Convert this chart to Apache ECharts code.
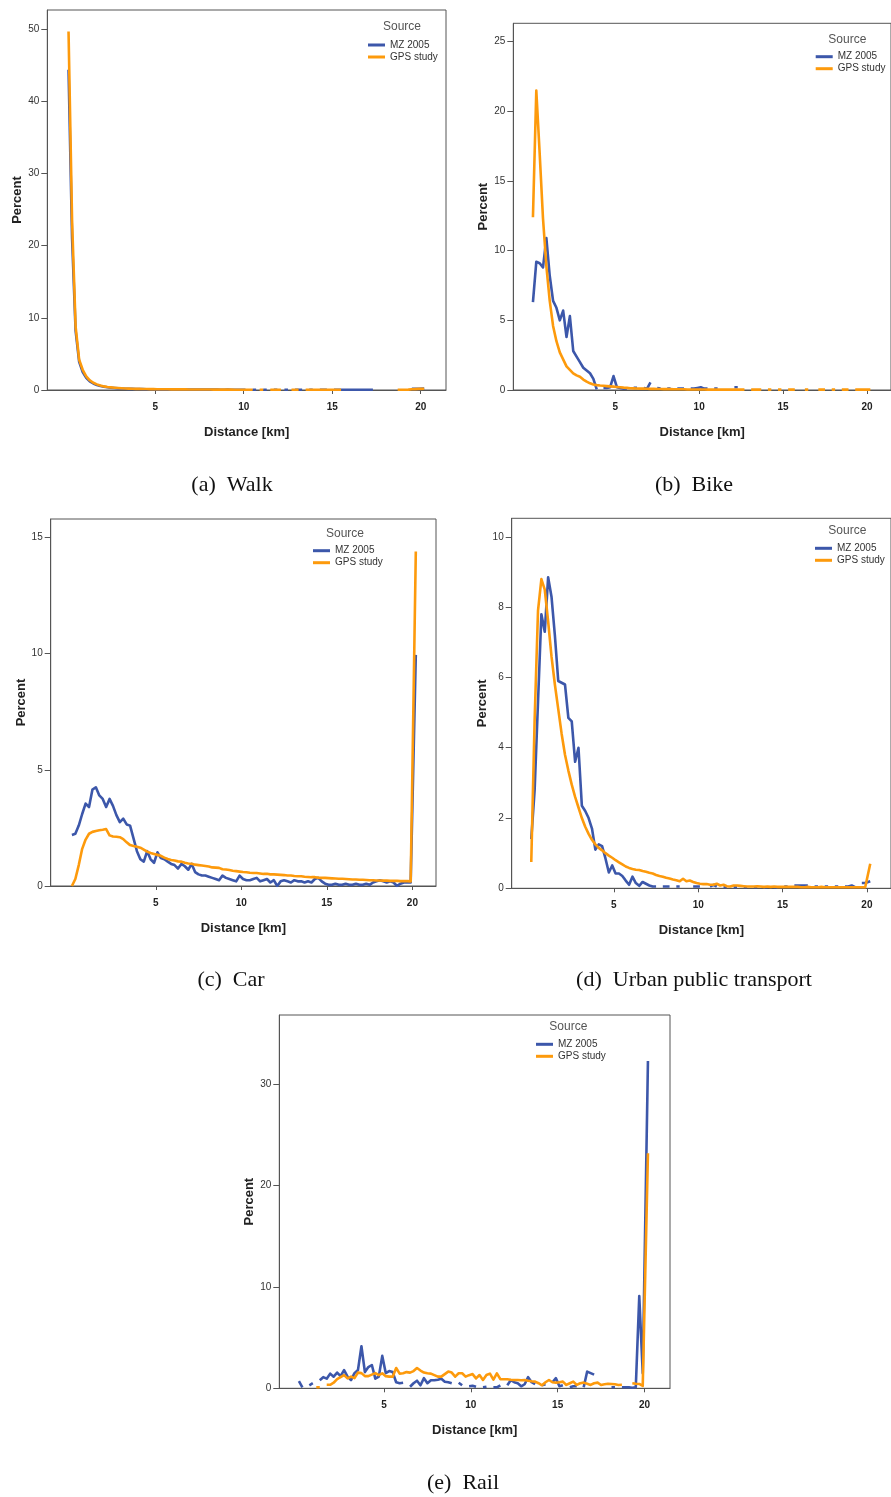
<!DOCTYPE html>
<html>
<head>
<meta charset="utf-8">
<script src="https://cdn.jsdelivr.net/npm/echarts@6/dist/echarts.min.js"></script>
<style>
  html, body { margin: 0; padding: 0; background: #ffffff; }
  #chart { width: 891px; height: 1497px; }
</style>
</head>
<body>
<div id="chart"></div>
<script>
// Trip-distance distributions by mode: share of trips (%) per 0.2 km distance bin,
// MZ 2005 survey vs GPS study. Bin centres run 0.1 ... 19.9 km; the last value
// of every series is the "> 20 km" class, drawn just right of 20 km.
const BIN_WIDTH_KM = 0.2;
const BIN_COUNT = 100;
const OVERFLOW_KM = 20.2;

const SERIES_NAMES = ['MZ 2005', 'GPS study'];
const X_TICKS = [5, 10, 15, 20];
const Y_TICKS_WALK = [0, 10, 20, 30, 40, 50];
const Y_TICKS_BIKE = [0, 5, 10, 15, 20, 25];
const Y_TICKS_CAR = [0, 5, 10, 15];
const Y_TICKS_URBAN = [0, 2, 4, 6, 8, 10];
const Y_TICKS_RAIL = [0, 10, 20, 30];
const CAPTIONS = ['(a)  Walk', '(b)  Bike', '(c)  Car', '(d)  Urban public transport', '(e)  Rail'];

// null = empty bin (the line breaks there)
const WALK_MZ = [
  44.4, 21.0, 8.2, 3.9, 2.5, 1.7, 1.2, 0.9, 0.7, 0.55,
  0.45, 0.38, 0.32, 0.27, 0.23, 0.2, 0.18, 0.16, 0.15, 0.14,
  0.13, 0.12, 0.11, 0.1, 0.1, 0.09, 0.09, 0.08, 0.08, 0.08,
  0.07, 0.07, 0.07, 0.06, 0.06, 0.06, 0.06, 0.05, 0.05, 0.05,
  0.05, 0.05, 0.05, 0.04, 0.04, 0.05, 0.04, 0.04, 0.04, 0.04,
  0.04, null, 0.03, 0.03, null, 0.03, 0.03, null, 0.03, 0.03,
  null, 0.03, 0.03, null, 0.03, 0.03, 0.03, null, 0.03, 0.03,
  null, 0.03, 0.03, 0.03, null, 0.03, 0.03, 0.03, 0.03, 0.03,
  0.03, 0.03, 0.03, 0.03, 0.03, 0.03, 0.03, null, null, null,
  null, null, null, null, null, null, null, 0.15, 0.15, 0.15,
  0.2
];
const WALK_GPS = [
  49.7, 23.5, 8.8, 4.2, 2.8, 1.9, 1.35, 1.0, 0.78, 0.62,
  0.5, 0.42, 0.36, 0.31, 0.27, 0.24, 0.21, 0.19, 0.17, 0.16,
  0.15, 0.14, 0.13, 0.12, 0.12, 0.11, 0.1, 0.1, 0.1, 0.09,
  0.09, 0.08, 0.08, 0.08, 0.07, 0.07, 0.07, 0.06, 0.06, 0.06,
  0.06, 0.05, 0.05, 0.05, 0.05, 0.05, 0.05, 0.04, 0.04, 0.04,
  0.04, 0.04, 0.04, null, 0.03, 0.03, null, 0.03, 0.03, 0.03,
  0.03, null, null, 0.03, 0.03, 0.03, null, 0.03, 0.03, 0.03,
  0.03, 0.03, 0.03, 0.03, 0.03, 0.03, 0.03, 0.03, null, null,
  null, null, null, null, null, null, null, null, null, null,
  null, null, null, 0.03, 0.03, 0.03, 0.05, 0.1, 0.12, 0.15,
  0.18
];

const BIKE_MZ = [
  6.3, 9.2, 9.1, 8.8, 10.9, 8.2, 6.4, 5.9, 5.0, 5.7,
  3.8, 5.3, 2.8, 2.4, 2.0, 1.6, 1.4, 1.2, 0.8, 0.05,
  null, 0.15, 0.15, 0.2, 1.0, 0.2, 0.15, 0.1, 0.1, null,
  0.15, 0.15, null, 0.15, 0.1, 0.55, null, 0.15, 0.1, null,
  0.1, 0.1, null, 0.1, 0.1, 0.1, null, 0.1, 0.1, 0.15,
  0.2, 0.1, 0.1, null, 0.1, 0.1, null, null, null, null,
  0.2, 0.2, null, null, null, null, null, null, null, null,
  null, null, null, null, null, null, null, null, null, null,
  null, null, null, null, null, null, null, null, null, null,
  null, null, null, null, null, null, null, null, null, null,
  null
];
const BIKE_GPS = [
  12.4, 21.5, 17.0, 12.3, 8.9, 6.4, 4.6, 3.5, 2.7, 2.2,
  1.7, 1.45, 1.2, 1.05, 0.95, 0.75, 0.6, 0.48, 0.4, 0.35,
  0.32, 0.3, 0.28, 0.26, 0.24, 0.22, 0.2, 0.17, 0.15, 0.13,
  0.12, 0.11, 0.1, 0.1, 0.09, 0.08, 0.08, 0.07, 0.07, 0.06,
  0.06, 0.06, 0.05, 0.05, 0.05, 0.05, 0.04, 0.04, 0.04, 0.04,
  0.04, 0.04, 0.03, 0.03, 0.03, 0.03, 0.03, 0.03, 0.03, 0.03,
  0.03, 0.03, 0.03, 0.03, null, 0.03, 0.03, 0.03, 0.03, null,
  0.03, 0.03, null, 0.03, 0.03, null, 0.03, 0.03, 0.03, null,
  null, 0.03, 0.03, null, null, 0.03, 0.03, 0.03, null, 0.03,
  0.03, null, 0.03, 0.03, 0.03, null, 0.03, 0.03, 0.03, 0.03,
  0.03
];

const CAR_MZ = [
  2.2, 2.25, 2.6, 3.1, 3.55, 3.4, 4.15, 4.25, 3.9, 3.75,
  3.4, 3.75, 3.45, 3.05, 2.75, 2.9, 2.65, 2.6, 2.05, 1.5,
  1.15, 1.05, 1.5, 1.15, 1.0, 1.45, 1.2, 1.15, 1.05, 0.95,
  0.9, 0.75, 0.95, 0.85, 0.7, 0.95, 0.6, 0.5, 0.45, 0.45,
  0.4, 0.35, 0.3, 0.25, 0.45, 0.35, 0.3, 0.25, 0.2, 0.45,
  0.3, 0.25, 0.25, 0.3, 0.35, 0.2, 0.25, 0.3, 0.15, 0.25,
  0.0, 0.2, 0.25, 0.2, 0.15, 0.25, 0.2, 0.2, 0.15, 0.2,
  0.15, 0.3, 0.35, 0.2, 0.1, 0.05, 0.05, 0.1, 0.05, 0.05,
  0.1, 0.05, 0.05, 0.1, 0.05, 0.05, 0.1, 0.05, 0.15, 0.2,
  0.25, 0.2, 0.15, 0.2, 0.15, 0.0, 0.1, 0.15, 0.15, 0.15,
  9.95
];
const CAR_GPS = [
  0.0, 0.3, 0.9, 1.6, 2.0, 2.25, 2.33, 2.37, 2.4, 2.42,
  2.45, 2.18, 2.13, 2.12, 2.1, 2.02, 1.88, 1.76, 1.72, 1.69,
  1.65, 1.57, 1.48, 1.42, 1.38, 1.34, 1.3, 1.22, 1.16, 1.12,
  1.1, 1.06, 1.05, 1.0, 0.97, 0.96, 0.92, 0.9, 0.88, 0.86,
  0.84, 0.8, 0.79, 0.78, 0.72, 0.71, 0.69, 0.66, 0.64, 0.62,
  0.6, 0.59, 0.57, 0.56, 0.56, 0.54, 0.52, 0.53, 0.5, 0.5,
  0.49, 0.48, 0.47, 0.45, 0.45, 0.43, 0.42, 0.42, 0.4, 0.39,
  0.38, 0.38, 0.36, 0.35, 0.35, 0.34, 0.33, 0.32, 0.31, 0.31,
  0.3, 0.29, 0.28, 0.28, 0.27, 0.27, 0.26, 0.25, 0.25, 0.24,
  0.24, 0.23, 0.23, 0.22, 0.22, 0.22, 0.21, 0.21, 0.21, 0.2,
  14.4
];

const URBAN_MZ = [
  1.4, 2.8, 5.3, 7.8, 7.3, 8.85, 8.3, 7.2, 5.9, 5.85,
  5.8, 4.85, 4.75, 3.6, 4.0, 2.35, 2.2, 2.0, 1.7, 1.1,
  1.25, 1.2, 0.85, 0.45, 0.65, 0.42, 0.42, 0.35, 0.22, 0.1,
  0.33, 0.15, 0.07, 0.18, 0.13, 0.08, 0.05, 0.05, null, 0.05,
  0.05, 0.05, null, 0.05, 0.05, null, null, null, 0.05, 0.05,
  0.05, null, null, 0.05, 0.1, 0.05, null, 0.03, 0.03, null,
  0.03, 0.03, null, 0.03, 0.03, null, 0.03, 0.03, null, 0.03,
  0.03, null, 0.03, 0.03, null, 0.05, 0.05, null, 0.08, 0.08,
  0.08, 0.08, 0.08, null, 0.05, 0.05, null, 0.05, 0.05, null,
  0.05, 0.05, null, 0.05, 0.05, 0.08, 0.03, null, 0.15, 0.15,
  0.2
];
const URBAN_GPS = [
  0.75, 4.8, 7.9, 8.8, 8.5, 7.6, 6.6, 5.8, 5.1, 4.4,
  3.8, 3.35, 2.95, 2.6, 2.3, 2.0, 1.75, 1.55, 1.38, 1.25,
  1.15, 1.08, 1.0, 0.93, 0.87, 0.8, 0.74, 0.68, 0.62, 0.58,
  0.55, 0.53, 0.52, 0.49, 0.47, 0.44, 0.42, 0.38, 0.35, 0.33,
  0.3, 0.28, 0.25, 0.23, 0.2, 0.27, 0.2, 0.22, 0.18, 0.15,
  0.13, 0.12, 0.12, 0.1, 0.1, 0.13, 0.08, 0.1, 0.06, 0.05,
  0.08, 0.08, 0.07, 0.06, 0.05, 0.05, 0.05, 0.06, 0.05, 0.04,
  0.05, 0.04, 0.05, 0.04, 0.04, 0.04, 0.04, 0.04, 0.04, 0.04,
  0.03, 0.03, 0.04, 0.03, 0.03, 0.03, 0.04, 0.03, 0.03, 0.03,
  0.03, 0.03, 0.03, 0.03, 0.03, 0.03, 0.03, 0.03, 0.03, 0.03,
  0.7
];

const RAIL_MZ = [
  0.7, 0.1, null, 0.3, 0.5, null, 0.8, 1.1, 0.95, 1.45,
  1.15, 1.55, 1.2, 1.8, 1.15, 0.8, 1.5, 1.8, 4.15, 1.6,
  2.1, 2.3, 0.95, 1.15, 3.2, 1.5, 1.7, 1.6, 0.6, 0.5,
  0.55, null, 0.15, 0.5, 0.75, 0.3, 1.0, 0.5, 0.8, 0.8,
  0.85, 0.95, 0.65, 0.6, 0.5, null, 0.55, 0.3, null, 0.2,
  0.25, 0.15, null, 0.1, 0.15, null, 0.1, 0.1, 0.3, null,
  0.3, 0.8, 0.6, 0.5, 0.2, 0.4, 1.1, 0.6, 0.4, null,
  0.3, 0.4, null, 0.6, 1.0, 0.2, 0.3, null, 0.1, 0.2,
  0.2, null, 0.1, 1.65, 1.5, 1.35, null, null, null, null,
  0.1, 0.1, null, 0.1, 0.1, 0.1, 0.05, 0.1, 9.1, 1.5,
  32.3
];
const RAIL_GPS = [
  null, null, null, null, null, 0.1, 0.1, null, 0.35, 0.35,
  0.55, 0.9, 1.1, 1.3, 0.98, 1.15, 1.0, 1.55, 1.5, 1.2,
  1.2, 1.35, 1.5, 1.3, 1.48, 1.2, 1.15, 1.15, 2.0, 1.45,
  1.48, 1.6, 1.55, 1.7, 2.0, 1.75, 1.55, 1.48, 1.45, 1.3,
  1.15, 1.15, 1.4, 1.65, 1.55, 1.15, 1.48, 1.48, 1.15, 1.3,
  1.4, 0.98, 1.31, 0.82, 1.31, 1.45, 0.85, 1.48, 0.9, 0.89,
  0.89, 0.85, 0.82, 0.82, 0.8, 0.82, 0.75, 0.7, 0.66, 0.5,
  0.3, 0.6, 0.82, 0.6, 0.56, 0.6, 0.66, 0.33, 0.5, 0.66,
  0.33, 0.5, 0.56, 0.45, 0.33, 0.5, 0.56, 0.33, 0.4, 0.45,
  0.43, 0.4, 0.33, 0.35, null, null, 0.5, 0.45, 0.43, 0.23,
  23.2
];

// ---- layout and styling ----
const COLOR_MZ = '#3c57aa';
const COLOR_GPS = '#fd9a0c';
const AXIS_COLOR = '#555555';
const FONT = '"Liberation Sans", Arial, sans-serif';

const PANELS = [
  { mz: WALK_MZ,  gps: WALK_GPS,  yMax: 52.68, yTicks: Y_TICKS_WALK,
    grid: { left: 47.3, top: 10, width: 398.7, height: 380 }, xMin: -1.10, xMax: 21.43,
    legend: [368, 39], source: [402, 27], caption: [232, 485] },
  { mz: BIKE_MZ,  gps: BIKE_GPS,  yMax: 26.32, yTicks: Y_TICKS_BIKE,
    grid: { left: 513.3, top: 23.3, width: 387, height: 366.7 }, xMin: -1.07, xMax: 21.43,
    legend: [815.7, 50.7], source: [847.3, 39.3], caption: [694, 485] },
  { mz: CAR_MZ,   gps: CAR_GPS,   yMax: 15.8, yTicks: Y_TICKS_CAR,
    grid: { left: 50.7, top: 519, width: 385.3, height: 367 }, xMin: -1.14, xMax: 21.38,
    legend: [313, 544.7], source: [345, 533.3], caption: [231, 980] },
  { mz: URBAN_MZ, gps: URBAN_GPS, yMax: 10.53, yTicks: Y_TICKS_URBAN,
    grid: { left: 511.7, top: 518.3, width: 389.7, height: 370 }, xMin: -1.06, xMax: 21.43,
    legend: [815, 542.3], source: [847.3, 530.7], caption: [694, 980] },
  { mz: RAIL_MZ,  gps: RAIL_GPS,  yMax: 36.85, yTicks: Y_TICKS_RAIL,
    grid: { left: 279.3, top: 1015, width: 390.7, height: 373.3 }, xMin: -1.03, xMax: 21.47,
    legend: [536, 1038.3], source: [568.3, 1026.7], caption: [463, 1483] }
];

function binCentre(i) {
  return i < BIN_COUNT ? Math.round((BIN_WIDTH_KM / 2 + i * BIN_WIDTH_KM) * 100) / 100 : OVERFLOW_KM;
}
function toPoints(values) {
  return values.map((v, i) => [binCentre(i), v]);
}

const grids = [], xAxes = [], yAxes = [], series = [], legends = [], graphics = [];

PANELS.forEach((p, idx) => {
  grids.push(Object.assign({ show: true, borderColor: AXIS_COLOR, borderWidth: 1, backgroundColor: '#ffffff' }, p.grid));

  xAxes.push({
    type: 'value', gridIndex: idx, min: p.xMin, max: p.xMax,
    name: 'Distance [km]', nameLocation: 'middle', nameGap: 36,
    nameTextStyle: { fontFamily: FONT, fontSize: 13, fontWeight: 'bold', color: '#222' },
    axisLine: { show: true, onZero: false, lineStyle: { color: AXIS_COLOR, width: 1 } },
    axisTick: { show: true, length: 4, customValues: X_TICKS, lineStyle: { color: AXIS_COLOR } },
    axisLabel: { customValues: X_TICKS, margin: 12, fontFamily: FONT, fontSize: 10, fontWeight: 'bold', color: '#222' },
    splitLine: { show: false }
  });

  yAxes.push({
    type: 'value', gridIndex: idx, min: 0, max: p.yMax,
    name: 'Percent', nameLocation: 'middle', nameGap: 22, nameRotate: 90,
    nameTextStyle: { fontFamily: FONT, fontSize: 13, fontWeight: 'bold', color: '#222' },
    axisLine: { show: true, onZero: false, lineStyle: { color: AXIS_COLOR, width: 1 } },
    axisTick: { show: true, length: 6, customValues: p.yTicks, lineStyle: { color: AXIS_COLOR } },
    axisLabel: { customValues: p.yTicks, margin: 8, fontFamily: FONT, fontSize: 10, color: '#333' },
    splitLine: { show: false }
  });

  [[SERIES_NAMES[0], p.mz, COLOR_MZ, 2], [SERIES_NAMES[1], p.gps, COLOR_GPS, 3]].forEach(([name, vals, color, z]) => {
    series.push({
      type: 'line', name, xAxisIndex: idx, yAxisIndex: idx,
      data: toPoints(vals), showSymbol: false, symbol: 'none', connectNulls: false,
      lineStyle: { color, width: 2.6, join: 'round', cap: 'butt' },
      itemStyle: { color }, z, clip: true
    });
  });

  legends.push({
    data: SERIES_NAMES, orient: 'vertical', left: p.legend[0], top: p.legend[1],
    icon: 'rect', itemWidth: 17, itemHeight: 3, itemGap: 0, padding: 0, selectedMode: false,
    textStyle: { fontFamily: FONT, fontSize: 10, color: '#333', lineHeight: 12 }
  });

  graphics.push({
    type: 'text', x: p.source[0], y: p.source[1],
    style: { text: 'Source', font: '12px ' + FONT, fill: '#555', textAlign: 'center', textVerticalAlign: 'middle' }
  });
  graphics.push({
    type: 'text', x: p.caption[0], y: p.caption[1],
    style: { text: CAPTIONS[idx], font: '22px "Liberation Serif", "Times New Roman", serif', fill: '#111', textAlign: 'center', textVerticalAlign: 'middle' }
  });
});

const chart = echarts.init(document.getElementById('chart'), null, { renderer: 'canvas' });
chart.setOption({
  animation: false,
  backgroundColor: '#ffffff',
  grid: grids,
  xAxis: xAxes,
  yAxis: yAxes,
  legend: legends,
  series: series,
  graphic: graphics
});
</script>
</body>
</html>
